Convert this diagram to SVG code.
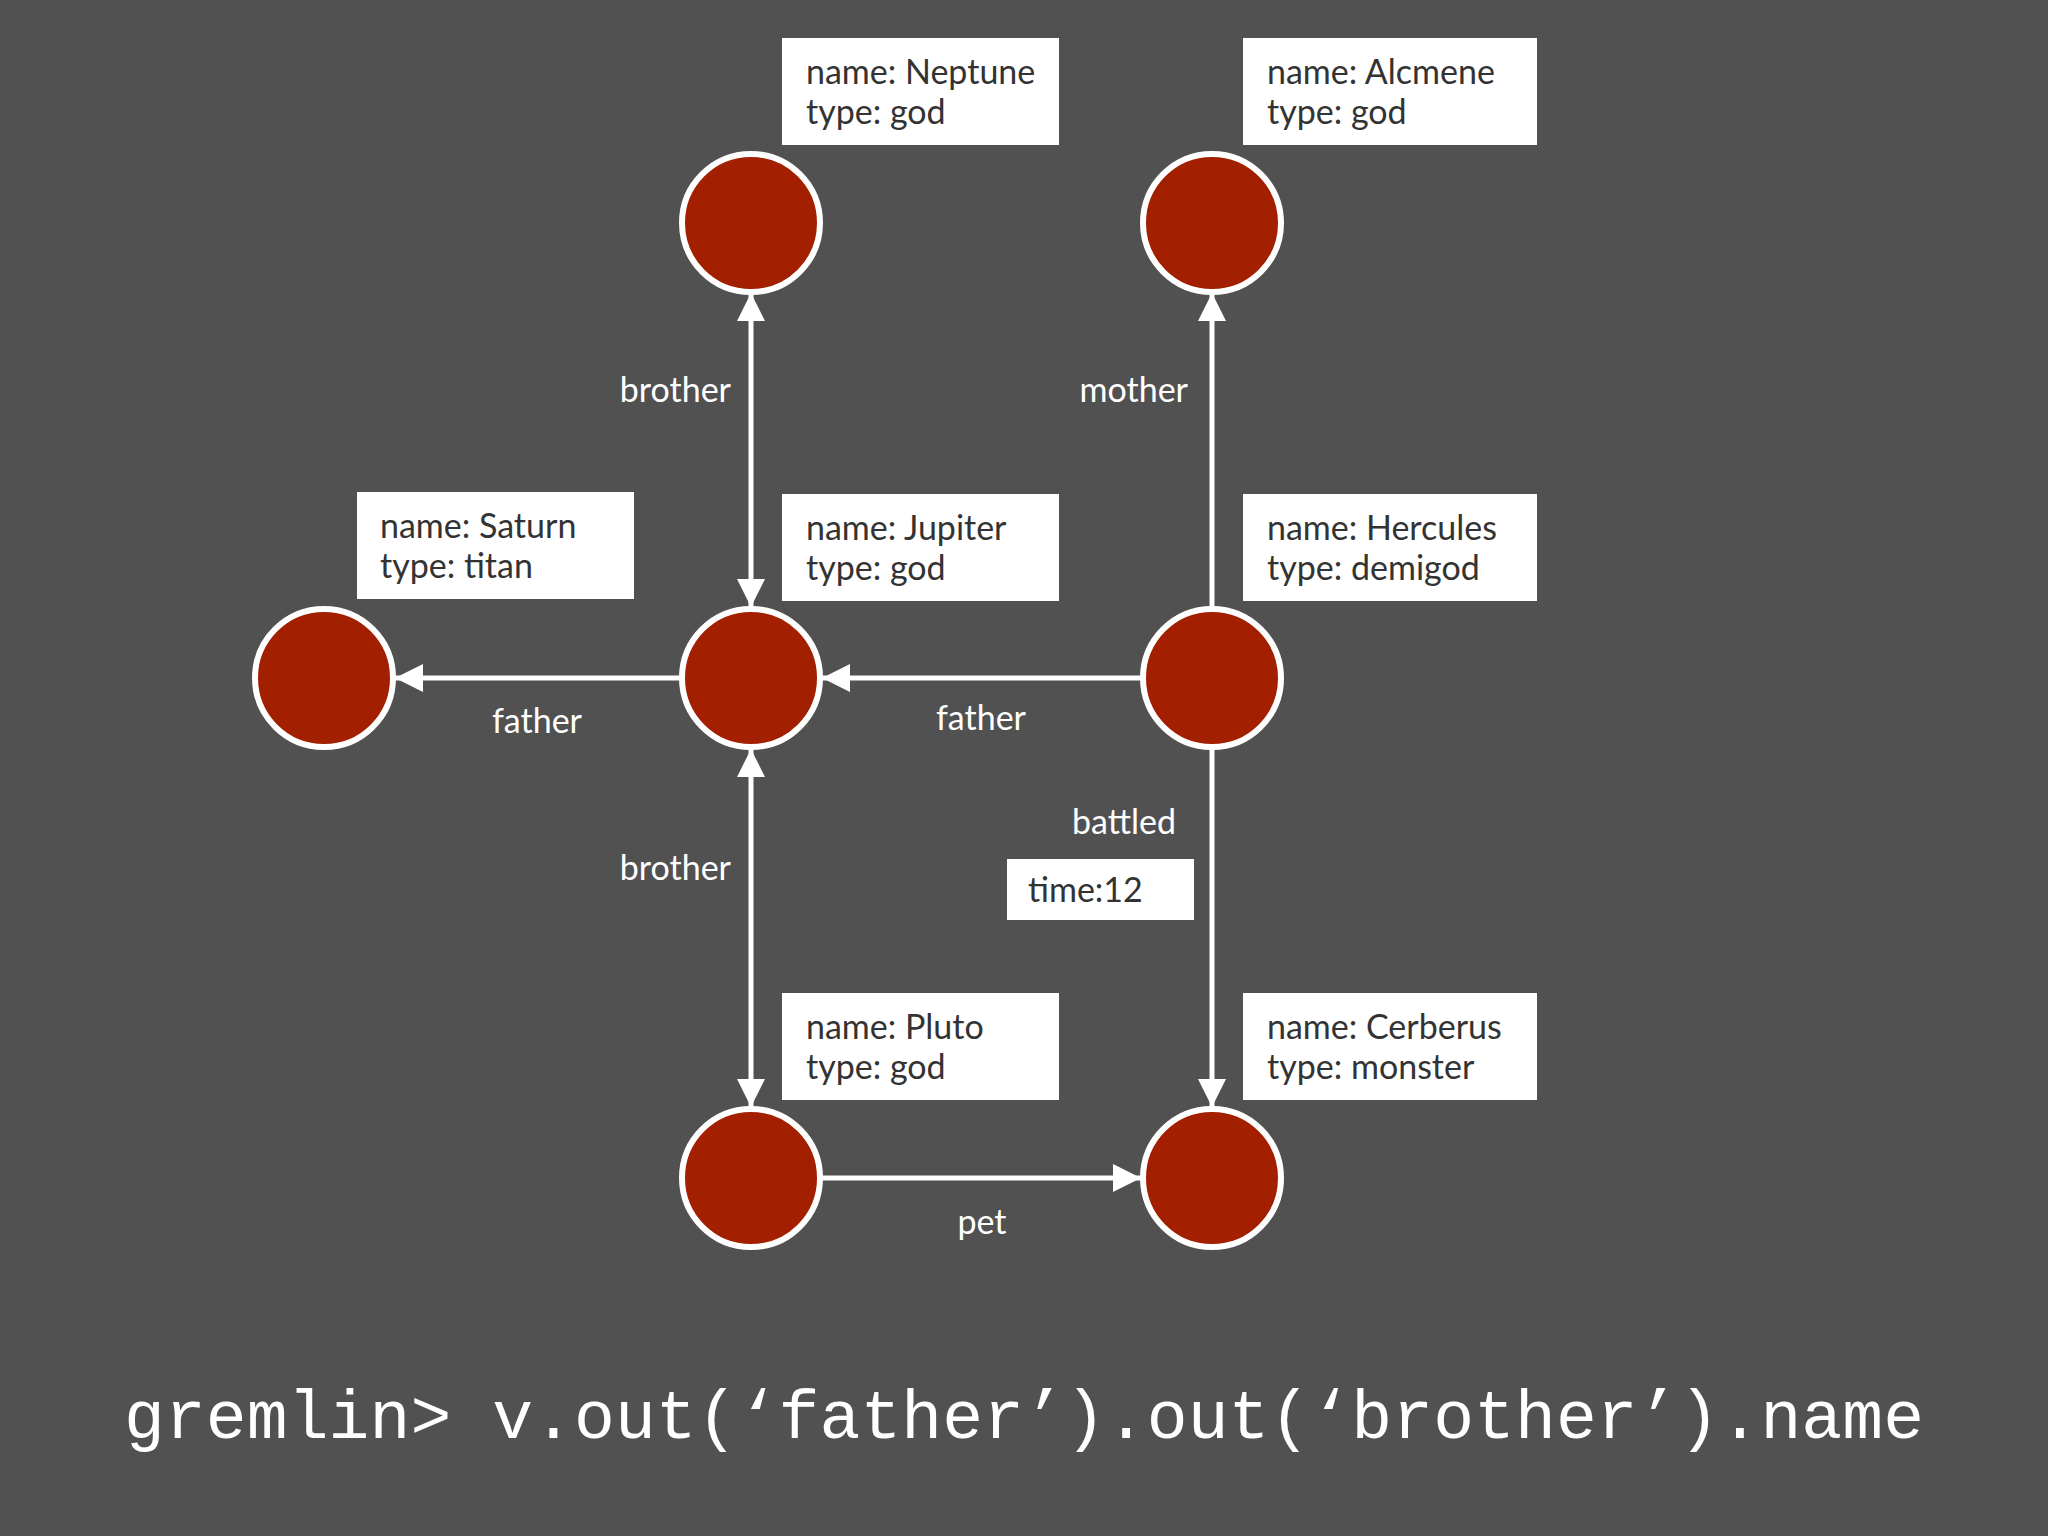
<svg xmlns="http://www.w3.org/2000/svg" width="2048" height="1536" viewBox="0 0 2048 1536">
<style>
.n{fill:#a21f00;stroke:#fff;stroke-width:6}
.b{fill:#fff}
.t{font-family:Lato,"Liberation Sans",sans-serif;font-size:34px;fill:#333}
.l{font-family:Lato,"Liberation Sans",sans-serif;font-size:34px;fill:#fff}
.e{stroke:#fff;stroke-width:5;fill:none}
</style>
<defs>
<marker id="a" markerUnits="userSpaceOnUse" markerWidth="30" markerHeight="30" viewBox="0 0 30 30" refX="28" refY="15" orient="auto-start-reverse">
<path d="M0,1 L28,15 L0,29 Z" fill="#fff"/>
</marker>
</defs>
<rect width="2048" height="1536" fill="#525152"/>
<g id="connectors">
<line class="e" x1="751" y1="293" x2="751" y2="607" marker-start="url(#a)" marker-end="url(#a)"/>
<line class="e" x1="1212" y1="607" x2="1212" y2="293" marker-end="url(#a)"/>
<line class="e" x1="1141" y1="678" x2="822" y2="678" marker-end="url(#a)"/>
<line class="e" x1="680" y1="678" x2="395" y2="678" marker-end="url(#a)"/>
<line class="e" x1="751" y1="749" x2="751" y2="1107" marker-start="url(#a)" marker-end="url(#a)"/>
<line class="e" x1="822" y1="1178" x2="1141" y2="1178" marker-end="url(#a)"/>
<line class="e" x1="1212" y1="749" x2="1212" y2="1107" marker-end="url(#a)"/>
<text class="l" x="731" y="402" text-anchor="end">brother</text>
<text class="l" x="1188" y="402" text-anchor="end">mother</text>
<text class="l" x="537" y="733" text-anchor="middle">father</text>
<text class="l" x="981" y="730" text-anchor="middle">father</text>
<text class="l" x="731" y="880" text-anchor="end">brother</text>
<text class="l" x="1176" y="834" text-anchor="end">battled</text>
<rect class="b" x="1007" y="859" width="187" height="61"/>
<text class="t" x="1028" y="902">time:12</text>
<text class="l" x="982" y="1234" text-anchor="middle">pet</text>
</g>
<g id="neptune"><circle class="n" cx="751" cy="223" r="69"/><rect class="b" x="782" y="38" width="277" height="107"/><text class="t" x="806" y="84">name: Neptune</text><text class="t" x="806" y="124">type: god</text></g>
<g id="alcmene"><circle class="n" cx="1212" cy="223" r="69"/><rect class="b" x="1243" y="38" width="294" height="107"/><text class="t" x="1267" y="84">name: Alcmene</text><text class="t" x="1267" y="124">type: god</text></g>
<g id="saturn"><circle class="n" cx="324" cy="678" r="69"/><rect class="b" x="357" y="492" width="277" height="107"/><text class="t" x="380" y="538">name: Saturn</text><text class="t" x="380" y="578">type: titan</text></g>
<g id="jupiter"><circle class="n" cx="751" cy="678" r="69"/><rect class="b" x="782" y="494" width="277" height="107"/><text class="t" x="806" y="540">name: Jupiter</text><text class="t" x="806" y="580">type: god</text></g>
<g id="hercules"><circle class="n" cx="1212" cy="678" r="69"/><rect class="b" x="1243" y="494" width="294" height="107"/><text class="t" x="1267" y="540">name: Hercules</text><text class="t" x="1267" y="580">type: demigod</text></g>
<g id="pluto"><circle class="n" cx="751" cy="1178" r="69"/><rect class="b" x="782" y="993" width="277" height="107"/><text class="t" x="806" y="1039">name: Pluto</text><text class="t" x="806" y="1079">type: god</text></g>
<g id="cerberus"><circle class="n" cx="1212" cy="1178" r="69"/><rect class="b" x="1243" y="993" width="294" height="107"/><text class="t" x="1267" y="1039">name: Cerberus</text><text class="t" x="1267" y="1079">type: monster</text></g>
<text x="124" y="1438" font-family="'Liberation Mono',monospace" font-size="68" fill="#fff" textLength="1800" lengthAdjust="spacing">gremlin&gt; v.out(‘father’).out(‘brother’).name</text>
</svg>
